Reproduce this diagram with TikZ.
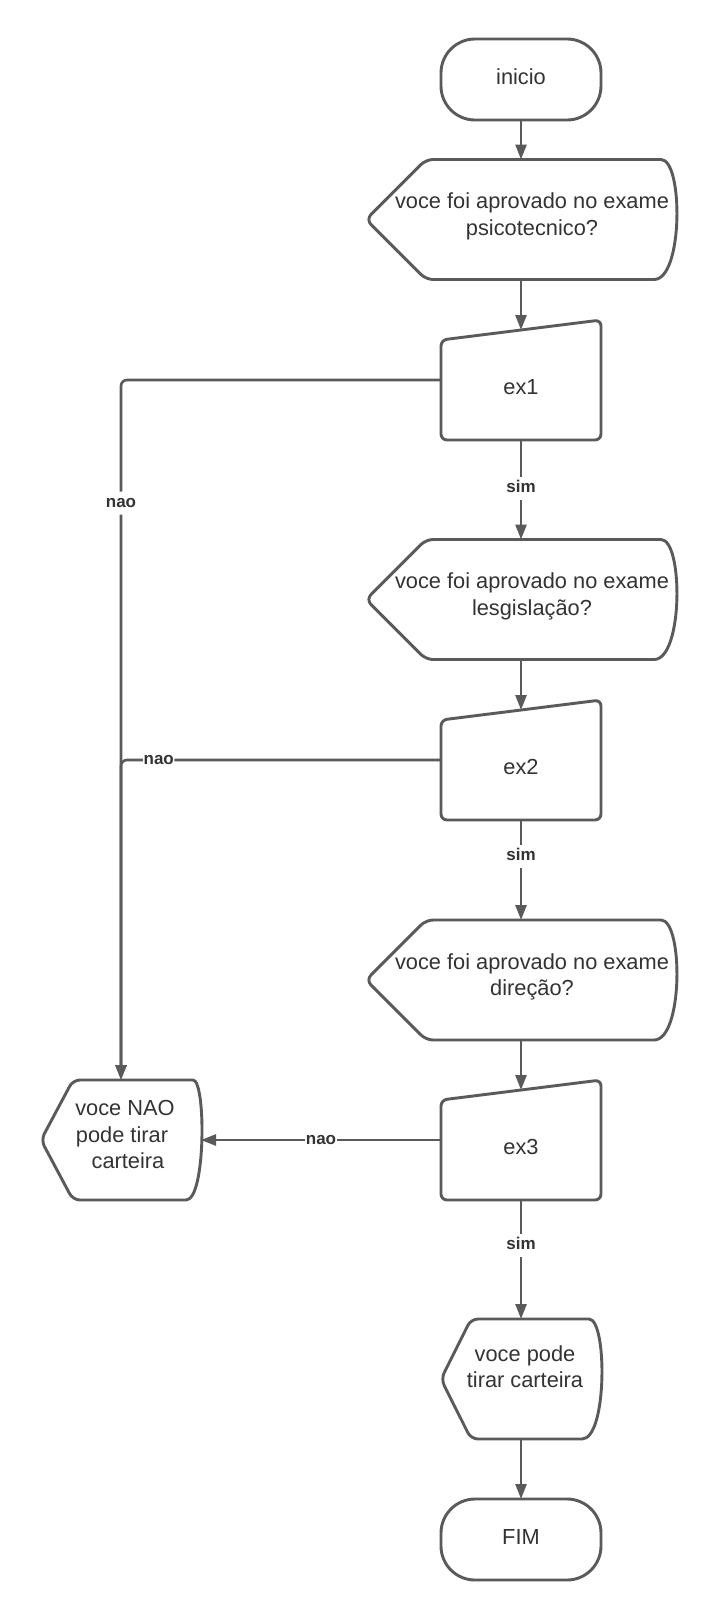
\documentclass[tikz,border=0pt]{standalone}
\usepackage{fontspec}
\setmainfont{Liberation Sans}
\usetikzlibrary{arrows.meta,calc}
\definecolor{lc}{HTML}{5A5A5A}
\definecolor{tc}{HTML}{333333}
\newcommand\dispoutline[3]{%
  \draw[shp,rounded corners=7pt] (#1.west) -- ([xshift=#2]#1.north west) -- ([xshift=-#3]#1.north east)
    [sharp corners] .. controls +(1.333*#3,0) and +(1.333*#3,0) .. ([xshift=-#3]#1.south east)
    [rounded corners=7pt] -- ([xshift=#2]#1.south west) -- cycle;}
\newcommand\manualoutline[1]{%
  \draw[shp,rounded corners=6pt] ([yshift=-10pt]#1.north west) -- ([yshift=10pt]#1.north east)
    -- (#1.south east) -- (#1.south west) -- cycle;}
\begin{document}
\begin{tikzpicture}[x=1pt,y=-1pt,
  every node/.style={text=tc,font=\fontsize{21.8}{26.6}\selectfont,inner sep=0pt,outer sep=0pt},
  shp/.style={draw=lc,line width=2.9pt},
  term/.style={shp,rounded corners=34pt,minimum width=160pt,minimum height=81pt,text height=15.5pt,text depth=6pt},
  dispbox/.style 2 args={minimum width=#1,minimum height=#2},
  manual/.style={minimum width=160pt,minimum height=110pt,text height=22.7pt,text depth=4.5pt},
  conn/.style={draw=lc,line width=2.6pt,-{Triangle[length=15pt,width=11pt]}},
  lbl/.style={fill=white,font=\bfseries\fontsize{17}{18}\selectfont,inner xsep=0.5pt,inner ysep=3.5pt,text height=12pt,text depth=4pt},
]
\fill[white] (0,0) rectangle (717,1620);
\useasboundingbox (0,0) rectangle (717,1620);

% nodes
\node[term] (start) at (521,79.5) {inicio};
\node[dispbox={310pt}{120pt}] (q1) at (521,219.5) {\hspace*{22pt}\raisebox{3pt}[\height][\depth]{\begin{tabular}{@{}c@{}}voce foi aprovado no exame\\psicotecnico?\end{tabular}}};
\node[manual] (e1) at (521,385) {ex1};
\node[dispbox={310pt}{120pt}] (q2) at (521,599.5) {\hspace*{22pt}\raisebox{3pt}[\height][\depth]{\begin{tabular}{@{}c@{}}voce foi aprovado no exame\\lesgislação?\end{tabular}}};
\node[manual] (e2) at (521,765) {ex2};
\node[dispbox={310pt}{120pt}] (q3) at (521,980) {\hspace*{22pt}\raisebox{3pt}[\height][\depth]{\begin{tabular}{@{}c@{}}voce foi aprovado no exame\\direção?\end{tabular}}};
\node[manual] (e3) at (521,1145) {ex3};
\node[dispbox={160pt}{120pt}] (q4) at (521,1379) {\hspace*{8pt}\raisebox{10pt}[\height][\depth]{\begin{tabular}{@{}c@{}}voce pode\\tirar carteira\end{tabular}}};
\node[term] (fim) at (521,1539.5) {FIM};
\node[dispbox={160pt}{120pt}] (nao) at (121,1140) {\hspace*{8pt}\raisebox{3pt}[\height][\depth]{\begin{tabular}{@{}c@{}}voce NAO\\pode tirar\kern6pt\\\kern6pt carteira\end{tabular}}};

% outlines
\dispoutline{q1}{60}{22}
\dispoutline{q2}{60}{22}
\dispoutline{q3}{60}{22}
\dispoutline{q4}{30}{19}
\dispoutline{nao}{32}{15}
\manualoutline{e1}
\manualoutline{e2}
\manualoutline{e3}

% connectors
\draw[conn] (start) -- (q1);
\draw[conn] (q1) -- (e1);
\draw[conn] (e1) -- node[lbl,pos=0.485]{sim} (q2);
\draw[conn] (q2) -- (e2);
\draw[conn] (e2) -- node[lbl,pos=0.36]{sim} (q3);
\draw[conn] (q3) -- (e3);
\draw[conn] (e3) -- node[lbl,pos=0.38]{sim} (q4);
\draw[conn] (q4) -- (fim);
\draw[conn,rounded corners=6pt] ([yshift=5pt]e1.west) -| node[lbl,pos=0.588]{nao} (nao.north);
\draw[conn,rounded corners=6pt] ([yshift=5pt]e2.west) -| node[lbl,pos=0.441]{nao} (nao.north);
\draw[conn] ([yshift=5pt]e3.west) -- node[lbl]{nao} (nao.east);
\end{tikzpicture}
\end{document}
